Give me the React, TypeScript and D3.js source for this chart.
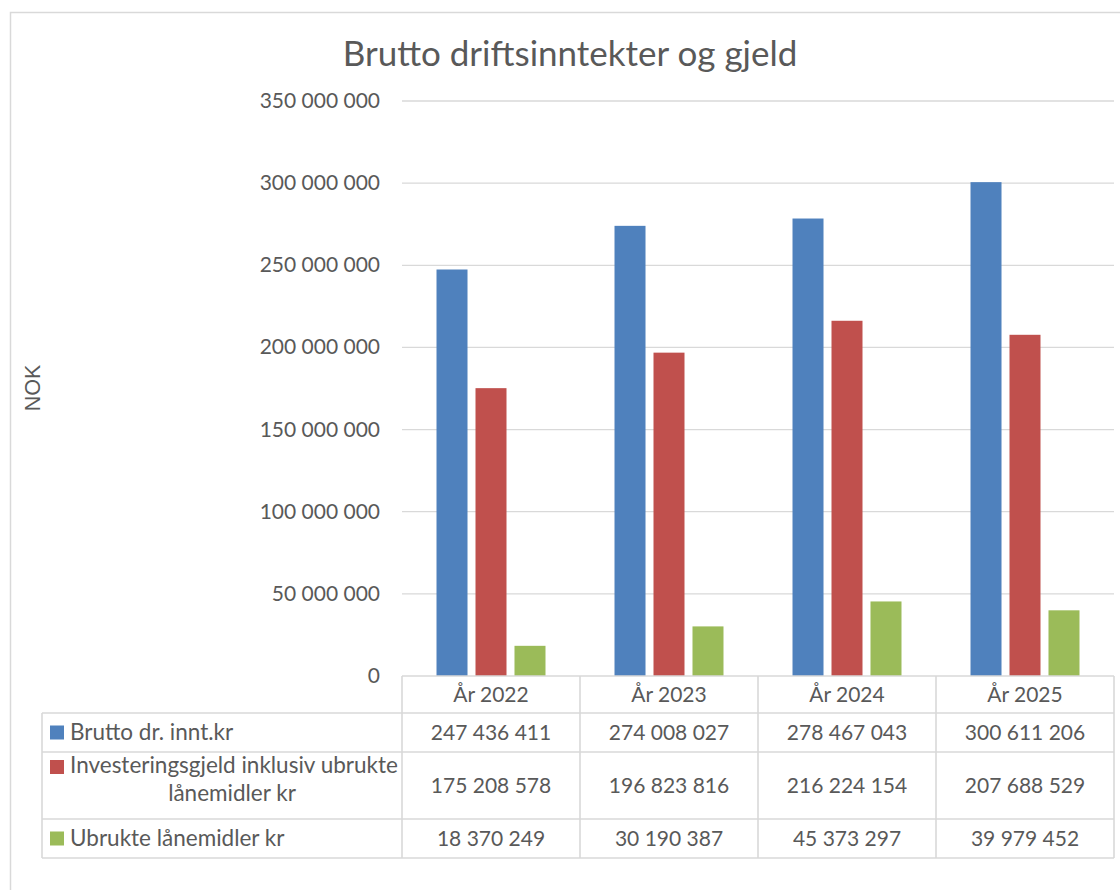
import React from 'react';
import * as d3 from 'd3';

const years = ['År 2022', 'År 2023', 'År 2024', 'År 2025'];
const seriesNames = [
  'Brutto dr. innt.kr',
  'Investeringsgjeld inklusiv ubrukte lånemidler kr',
  'Ubrukte lånemidler kr',
];
const seriesColors = ['#4F81BD', '#C0504D', '#9BBB59'];
const brutto = [247436411, 274008027, 278467043, 300611206];
const gjeld = [175208578, 196823816, 216224154, 207688529];
const ubrukte = [18370249, 30190387, 45373297, 39979452];
const yTicks = [0, 50000000, 100000000, 150000000, 200000000, 250000000, 300000000, 350000000];

const values = [brutto, gjeld, ubrukte];
const fmt = (v: number) => d3.format(',')(v).replace(/,/g, ' ');

const FONT = 'Lato, "Open Sans", sans-serif';
const TEXT = '#595959';
const GRID = '#D9D9D9';

export default function App() {
  const W = 1120;
  const H = 890;
  const plot = { left: 402, right: 1114, top: 101, bottom: 676 };

  const y = d3.scaleLinear().domain([0, 350000000]).range([plot.bottom, plot.top]);
  const x = d3.scaleBand<string>().domain(years).range([plot.left, plot.right]);
  const inner = d3
    .scaleBand<number>()
    .domain([0, 1, 2])
    .range([0, x.bandwidth()])
    .paddingInner(0.205)
    .paddingOuter(0.885);

  // table rows (y edges)
  const rowEdges = [plot.bottom, 713, 752, 819, 858];
  const tableLeft = 42;
  const colEdges = [...years.map((c) => x(c) as number), plot.right];

  return (
    <div style={{ position: 'absolute', left: 0, top: 0 }}>
      <svg width={W} height={H} style={{ display: 'block', background: '#fff' }}>
        <rect x={10.5} y={12.5} width={1140} height={900} fill="#fff" stroke={GRID} strokeWidth={1.5} />

        <text x={570} y={66} textAnchor="middle" fontFamily={FONT} fontSize={35} fill={TEXT}>
          Brutto driftsinntekter og gjeld
        </text>

        {/* grid + y labels */}
        {yTicks.map((t) => (
          <g key={t}>
            {t > 0 && (
              <line x1={plot.left} x2={plot.right} y1={y(t)} y2={y(t)} stroke={GRID} strokeWidth={1.3} />
            )}
            <text x={380} y={y(t) + 7} textAnchor="end" fontFamily={FONT} fontSize={21} fill={TEXT}>
              {fmt(t)}
            </text>
          </g>
        ))}

        <text
          transform={`translate(40,${388}) rotate(-90)`}
          textAnchor="middle"
          fontFamily='"Liberation Sans", Arial, sans-serif'
          fontSize={21.5}
          fill={TEXT}
        >
          NOK
        </text>

        {/* bars */}
        {years.map((c, i) => (
          <g key={c} transform={`translate(${x(c)},0)`}>
            {values.map((s, k) => (
              <rect
                key={k}
                x={inner(k)}
                y={y(s[i])}
                width={inner.bandwidth()}
                height={y(0) - y(s[i])}
                fill={seriesColors[k]}
              />
            ))}
          </g>
        ))}

        {/* data table lines */}
        <g stroke={GRID} strokeWidth={1.6}>
          <line x1={plot.left} x2={plot.right} y1={rowEdges[0]} y2={rowEdges[0]} />
          {rowEdges.slice(1).map((r) => (
            <line key={r} x1={tableLeft} x2={plot.right} y1={r} y2={r} />
          ))}
          <line x1={tableLeft} x2={tableLeft} y1={rowEdges[1]} y2={rowEdges[4]} />
          {colEdges.map((cx) => (
            <line key={cx} x1={cx} x2={cx} y1={rowEdges[0]} y2={rowEdges[4]} />
          ))}
        </g>

        {/* header */}
        {years.map((c) => (
          <text
            key={c}
            x={(x(c) as number) + x.bandwidth() / 2}
            y={702}
            textAnchor="middle"
            fontFamily={FONT}
            fontSize={21}
            fill={TEXT}
          >
            {c}
          </text>
        ))}

        {/* rows */}
        {values.map((s, k) => {
          const top = rowEdges[k + 1];
          const bot = rowEdges[k + 2];
          const mid = (top + bot) / 2;
          return (
            <g key={k}>
              <rect x={50} y={k === 1 ? 760 : mid - 7} width={14} height={14} fill={seriesColors[k]} />
              {k === 1 ? (
                <text fontFamily={FONT} fontSize={22.5} fill={TEXT}>
                  <tspan x={70} y={773}>
                    Investeringsgjeld inklusiv ubrukte
                  </tspan>
                  <tspan x={232} y={801} textAnchor="middle">
                    lånemidler kr
                  </tspan>
                </text>
              ) : (
                <text x={70} y={mid + 7.5} fontFamily={FONT} fontSize={22.5} fill={TEXT}>
                  {seriesNames[k]}
                </text>
              )}
              {s.map((v, i) => (
                <text
                  key={i}
                  x={(x(years[i]) as number) + x.bandwidth() / 2}
                  y={mid + 7.5}
                  textAnchor="middle"
                  fontFamily={FONT}
                  fontSize={21}
                  fill={TEXT}
                >
                  {fmt(v)}
                </text>
              ))}
            </g>
          );
        })}
      </svg>
    </div>
  );
}
